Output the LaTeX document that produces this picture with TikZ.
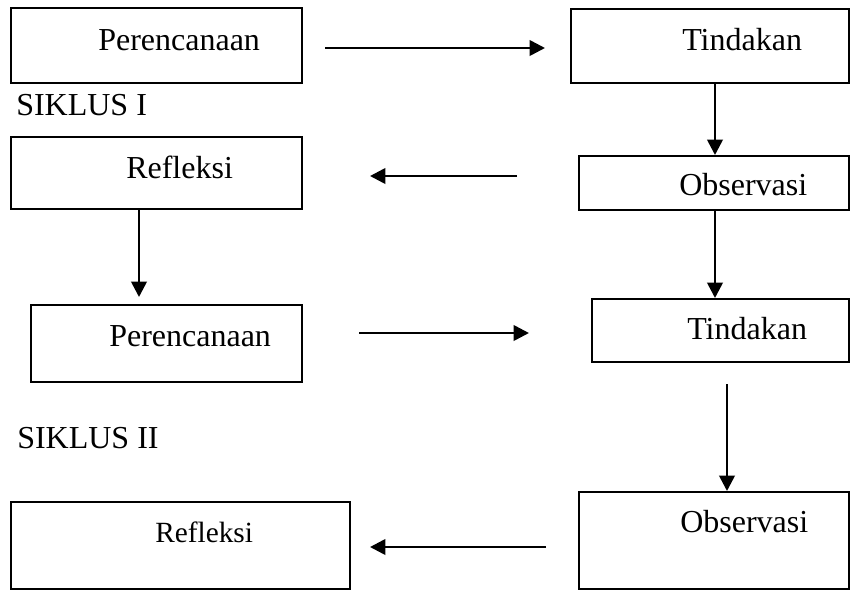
\documentclass[tikz,border=0pt]{standalone}
\usepackage{fontspec}
\setmainfont{Liberation Serif}
\usetikzlibrary{arrows.meta,fit}
\tikzset{
	box/.style={draw, line width=1.5pt, inner sep=0pt},
	lbl/.style={anchor=base west, inner sep=0pt, font=\fontsize{24}{28}\selectfont},
	arr/.style={line width=2pt, -{Triangle[length=11.5pt, width=11.5pt]}}
}

\begin{document}
\begin{tikzpicture}[x=0.75pt, y=-0.75pt]
		%%%%% START %%%%%
		\useasboundingbox (0, 0) rectangle (851, 590);
		
		% siklus I
		\node[box, fit={(11, 8) (302, 83)}] (rencana1) {};
		\node[lbl] (rencana1txt) at (98, 50) {Perencanaan};
		\node[box, fit={(571, 9) (849, 83)}] (tindak1) {};
		\node[lbl] (tindak1txt) at (682, 50) {Tindakan};
		\node[lbl] (siklus1) at (16, 115) {SIKLUS I};
		\node[box, fit={(11, 137) (302, 209)}] (refleksi1) {};
		\node[lbl] (refleksi1txt) at (126, 178) {Refleksi};
		\node[box, fit={(579, 156) (849, 210)}] (obs1) {};
		\node[lbl] (obs1txt) at (679, 195) {Observasi};
		
		% siklus II
		\node[box, fit={(31, 305) (302, 382)}] (rencana2) {};
		\node[lbl] (rencana2txt) at (109, 346) {Perencanaan};
		\node[box, fit={(592, 299) (849, 362)}] (tindak2) {};
		\node[lbl] (tindak2txt) at (687, 339) {Tindakan};
		\node[lbl] (siklus2) at (17, 448) {SIKLUS II};
		\node[box, fit={(11, 502) (350, 589)}] (refleksi2) {};
		\node[lbl, font=\fontsize{22}{26}\selectfont] (refleksi2txt) at (155, 542) {Refleksi};
		\node[box, fit={(579, 492) (849, 589)}] (obs2) {};
		\node[lbl] (obs2txt) at (680, 532) {Observasi};
		
		% free ends of the arrows
		\coordinate (kanan1a) at (325, 48);
		\coordinate (kanan1b) at (545, 48);
		\coordinate (kiri1a) at (517, 176);
		\coordinate (kiri1b) at (370, 176);
		\coordinate (turun1) at (715, 0);
		\coordinate (turun2) at (139, 0);
		\coordinate (turun2b) at (139, 297);
		\coordinate (kanan2a) at (359, 333);
		\coordinate (kanan2b) at (529, 333);
		\coordinate (turun3) at (727, 384);
		\coordinate (kiri2a) at (546, 547);
		\coordinate (kiri2b) at (370, 547);
		
		\draw[arr] (kanan1a) -- (kanan1b);
		\draw[arr] (tindak1.south -| turun1) -- (obs1.north -| turun1);
		\draw[arr] (kiri1a) -- (kiri1b);
		\draw[arr] (refleksi1.south -| turun2) -- (turun2b);
		\draw[arr] (obs1.south -| turun1) -- (tindak2.north -| turun1);
		\draw[arr] (kanan2a) -- (kanan2b);
		\draw[arr] (turun3) -- (obs2.north -| turun3);
		\draw[arr] (kiri2a) -- (kiri2b);
		
		%%%%% END %%%%%
\end{tikzpicture}
\end{document}
